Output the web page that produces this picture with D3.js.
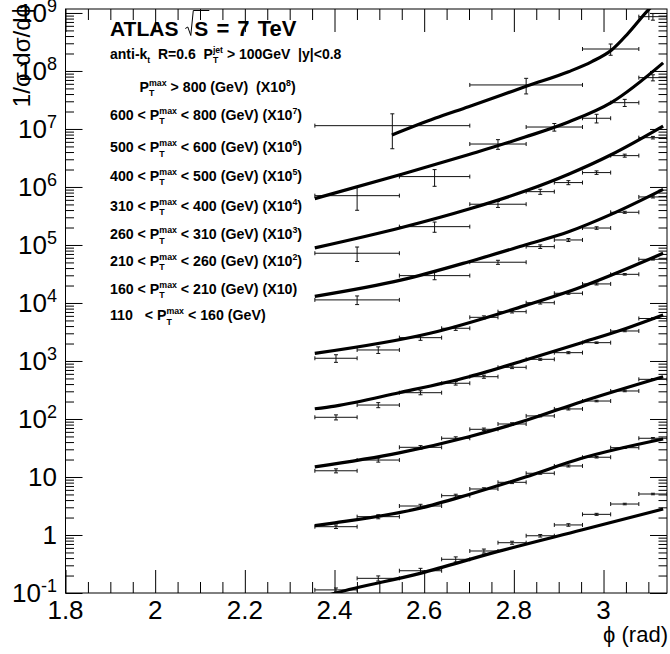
<!DOCTYPE html>
<html>
<head>
<meta charset="utf-8">
<script src="https://cdn.jsdelivr.net/npm/d3@7"></script>
<style>
  body { margin: 0; background: #fff; }
  text { font-family: "Liberation Sans", Arial, Helvetica, sans-serif; white-space: pre; }
</style>
</head>
<body>
<div class="canvas"></div>
<script>
// bin edges (in units of pi)
const binsFine = [0.75, 0.78, 0.81, 0.84, 0.86, 0.88, 0.90, 0.92, 0.94, 0.96, 0.98, 1.00];
const binsMid  = [0.75, 0.81, 0.86, 0.90, 0.92, 0.94, 0.96, 0.98, 1.00];
const binsH    = [0.75, 0.81, 0.86, 0.90, 0.94, 0.96, 0.98, 1.00];
const binsI    = [0.75, 0.86, 0.94, 0.98, 1.00];

// data values (already multiplied by the factor in the legend) and relative errors
const valA = [0.113, 0.179, 0.242, 0.381, 0.53, 0.736, 0.97, 1.49, 2.27, 3.42, 5.09];
const errA = [0.08, 0.10, 0.10, 0.10, 0.08, 0.06, 0.05, 0.05, 0.04, 0.03, 0.03];
const valB = [1.39, 2.07, 3.16, 4.76, 6.21, 8.1, 11.6, 15.5, 21.9, 32, 46.5];
const errB = [0.07, 0.08, 0.07, 0.06, 0.05, 0.05, 0.04, 0.04, 0.03, 0.03, 0.03];
const valC = [12.8, 19.6, 32.5, 46.5, 66.4, 82, 113, 149, 204, 304, 483];
const errC = [0.08, 0.08, 0.07, 0.06, 0.05, 0.05, 0.04, 0.04, 0.03, 0.03, 0.03];
const valD = [107, 174, 284, 413, 536, 778, 1069, 1391, 2069, 3290, 5400];
const errD = [0.10, 0.10, 0.08, 0.07, 0.06, 0.05, 0.04, 0.04, 0.03, 0.03, 0.03];
const valE = [1114, 1549, 2524, 3664, 5660, 7080, 10100, 14700, 21300, 31200, 56600];
const errE = [0.15, 0.13, 0.10, 0.08, 0.06, 0.05, 0.05, 0.04, 0.04, 0.03, 0.03];
const valF = [1.13e4, 2.96e4, 5.04e4, 9.36e4, 1.22e5, 1.96e5, 3.66e5, 6.73e5];
const errF = [0.17, 0.15, 0.08, 0.07, 0.06, 0.05, 0.04, 0.04];
const valG = [7.2e4, 2.07e5, 5.04e5, 8.3e5, 1.19e6, 1.77e6, 3.47e6, 7.08e6];
const errG = [0.28, 0.20, 0.12, 0.10, 0.08, 0.07, 0.06, 0.05];
const valH = [7.08e5, 1.51e6, 5.5e6, 1.08e7, 1.53e7, 2.84e7, 7.67e7];
const errH = [0.44, 0.32, 0.19, 0.15, 0.17, 0.14, 0.12];
const valI = [1.14e7, 5.74e7, 2.39e8, 8.63e8];
const errI = [0.60, 0.30, 0.22, 0.13];

// theory curves [phi (rad), value]
const curveA = [[2.356, 0.078], [2.401, 0.099], [2.591, 0.218], [2.763, 0.516], [2.951, 1.22], [3.133, 2.8]];
const curveB = [[2.356, 1.45], [2.401, 1.62], [2.591, 2.9], [2.70, 5.0], [2.826, 10.0], [2.951, 21], [3.133, 45.2]];
const curveC = [[2.356, 14.9], [2.544, 26], [2.70, 49.5], [2.826, 94], [2.951, 199], [3.133, 536]];
const curveD = [[2.356, 150], [2.401, 167], [2.544, 284], [2.70, 536], [2.826, 1040], [2.951, 2069], [3.05, 3630], [3.133, 6210]];
const curveE = [[2.356, 1350], [2.613, 3000], [2.825, 9000], [2.922, 15700], [3.018, 30400], [3.133, 72000]];
const curveF = [[2.356, 1.3e4], [2.55, 2.5e4], [2.70, 5.15e4], [2.825, 1.0e5], [2.922, 1.69e5], [3.018, 3.4e5], [3.133, 9.1e5]];
const curveG = [[2.356, 8.9e4], [2.55, 2.0e5], [2.70, 4.17e5], [2.825, 8.5e5], [2.922, 1.66e6], [3.018, 3.63e6], [3.133, 1.12e7]];
const curveH = [[2.356, 6.3e5], [2.55, 1.66e6], [2.70, 3.63e6], [2.825, 7.24e6], [2.922, 1.32e7], [3.018, 2.88e7], [3.133, 1.38e8]];
const curveI = [[2.528, 7.88e6], [2.624, 1.53e7], [2.699, 2.42e7], [2.773, 3.85e7], [2.829, 5.5e7], [2.922, 9.7e7], [2.974, 1.45e8], [3.018, 2.3e8], [3.055, 4.47e8], [3.1, 1.13e9], [3.12, 1.6e9]];

// tick labels
const xTickVals = [1.8, 2.0, 2.2, 2.4, 2.6, 2.8, 3.0];
const xTickLabels = ['1.8', '2', '2.2', '2.4', '2.6', '2.8', '3'];
const yExponents = [-1, 0, 1, 2, 3, 4, 5, 6, 7, 8, 9];

// legend rows: [before P, after P, exponent, closing]
const legendRows = [
  ['', ' > 800 (GeV)  (X10', '8', ')'],
  ['600 < ', ' < 800 (GeV) (X10', '7', ')'],
  ['500 < ', ' < 600 (GeV) (X10', '6', ')'],
  ['400 < ', ' < 500 (GeV) (X10', '5', ')'],
  ['310 < ', ' < 400 (GeV) (X10', '4', ')'],
  ['260 < ', ' < 310 (GeV) (X10', '3', ')'],
  ['210 < ', ' < 260 (GeV) (X10', '2', ')'],
  ['160 < ', ' < 210 (GeV) (X10)', '', ''],
  ['110   < ', ' < 160 (GeV)', '', '']
];

const series = [
  {bins: binsFine, vals: valA, errs: errA, curve: curveA},
  {bins: binsFine, vals: valB, errs: errB, curve: curveB},
  {bins: binsFine, vals: valC, errs: errC, curve: curveC},
  {bins: binsFine, vals: valD, errs: errD, curve: curveD},
  {bins: binsFine, vals: valE, errs: errE, curve: curveE},
  {bins: binsMid, vals: valF, errs: errF, curve: curveF},
  {bins: binsMid, vals: valG, errs: errG, curve: curveG},
  {bins: binsH, vals: valH, errs: errH, curve: curveH},
  {bins: binsI, vals: valI, errs: errI, curve: curveI}
];

const W = 670, H = 654;
const pLeft = 65.5, pRight = 667, pTop = 9, pBottom = 593;

const svg = d3.select('.canvas')
  .append('svg')
    .attr('width', W)
    .attr('height', H);

const x = d3.scaleLinear()
  .domain([1.8, Math.PI])
  .range([pLeft, pRight]);

const y = d3.scaleLog()
  .domain([0.1, 1.17e9])
  .range([pBottom, pTop]);

svg.append('clipPath').attr('id', 'clip')
  .append('rect')
    .attr('x', pLeft).attr('y', pTop)
    .attr('width', pRight - pLeft).attr('height', pBottom - pTop);

// ticks
const xMinor = d3.range(36, 63).map(i => +(i * 0.05).toFixed(2)).filter(v => !xTickVals.includes(v));
const yMajor = yExponents.map(e => Math.pow(10, e));
const yMinor = [];
yExponents.forEach(e => d3.range(2, 10).forEach(k => {
  const v = k * Math.pow(10, e);
  if (v < 1.17e9) yMinor.push(v);
}));

function tickAxis(axis, transform) {
  svg.append('g')
    .attr('transform', transform)
    .call(axis.tickFormat('').tickSizeOuter(0))
    .call(g => g.select('.domain').remove())
    .selectAll('line').attr('stroke', '#000');
}

tickAxis(d3.axisBottom(x).tickValues(xTickVals).tickSizeInner(-23), `translate(0,${pBottom})`);
tickAxis(d3.axisBottom(x).tickValues(xMinor).tickSizeInner(-11), `translate(0,${pBottom})`);
tickAxis(d3.axisTop(x).tickValues(xTickVals).tickSizeInner(-23), `translate(0,${pTop})`);
tickAxis(d3.axisTop(x).tickValues(xMinor).tickSizeInner(-11), `translate(0,${pTop})`);
tickAxis(d3.axisLeft(y).tickValues(yMajor).tickSizeInner(-17), `translate(${pLeft},0)`);
tickAxis(d3.axisLeft(y).tickValues(yMinor).tickSizeInner(-8.5), `translate(${pLeft},0)`);
tickAxis(d3.axisRight(y).tickValues(yMajor).tickSizeInner(-17), `translate(${pRight},0)`);
tickAxis(d3.axisRight(y).tickValues(yMinor).tickSizeInner(-8.5), `translate(${pRight},0)`);

// frame
svg.append('rect')
  .attr('x', pLeft).attr('y', pTop)
  .attr('width', pRight - pLeft).attr('height', pBottom - pTop)
  .attr('fill', 'none').attr('stroke', '#000').attr('stroke-width', 1);

// x tick labels
svg.append('g').selectAll('text')
  .data(xTickVals)
  .enter().append('text')
    .attr('x', d => x(d))
    .attr('y', pBottom + 26)
    .attr('text-anchor', 'middle')
    .attr('font-size', 26)
    .text((d, i) => xTickLabels[i]);

// y tick labels
yExponents.forEach(e => {
  const t = svg.append('text')
    .attr('x', 57)
    .attr('y', y(Math.pow(10, e)) + 9.4)
    .attr('text-anchor', 'end')
    .attr('font-size', 26);
  if (e === 0) t.text('1');
  else if (e === 1) t.text('10');
  else {
    t.append('tspan').text('10');
    t.append('tspan').attr('dy', -10).attr('font-size', 18).text(e);
  }
});

// axis titles
svg.append('text')
  .attr('transform', 'translate(30,4) rotate(-90)')
  .attr('text-anchor', 'end')
  .attr('font-size', 24)
  .text('1/σ dσ/dϕ');

svg.append('text')
  .attr('x', 668).attr('y', 642)
  .attr('text-anchor', 'end')
  .attr('font-size', 22)
  .text('ϕ (rad)');

// data: error bars
const plot = svg.append('g').attr('clip-path', 'url(#clip)');

series.forEach(s => {
  const pts = s.vals.map((v, i) => ({
    lo: s.bins[i] * Math.PI, hi: s.bins[i + 1] * Math.PI, v: v, e: s.errs[i]
  }));
  const g = plot.append('g').attr('stroke', '#111').attr('stroke-width', 1).attr('fill', 'none');
  pts.forEach(p => {
    const xc = x((p.lo + p.hi) / 2), yv = y(p.v);
    const yu = y(p.v * (1 + p.e)), yd = y(p.v * (1 - p.e));
    g.append('line').attr('x1', x(p.lo)).attr('x2', x(p.hi)).attr('y1', yv).attr('y2', yv);
    g.append('line').attr('x1', x(p.lo)).attr('x2', x(p.lo)).attr('y1', yv - 2).attr('y2', yv + 2);
    g.append('line').attr('x1', x(p.hi)).attr('x2', x(p.hi)).attr('y1', yv - 2).attr('y2', yv + 2);
    g.append('line').attr('x1', xc).attr('x2', xc).attr('y1', yu).attr('y2', yd);
    g.append('line').attr('x1', xc - 2).attr('x2', xc + 2).attr('y1', yu).attr('y2', yu);
    g.append('line').attr('x1', xc - 2).attr('x2', xc + 2).attr('y1', yd).attr('y2', yd);
  });
});

// theory curves
const line = d3.line()
  .x(d => x(d[0]))
  .y(d => y(d[1]))
  .curve(d3.curveMonotoneX);

plot.selectAll('path.curve')
  .data(series)
  .enter().append('path')
    .attr('class', 'curve')
    .attr('d', d => line(d.curve))
    .attr('fill', 'none')
    .attr('stroke', '#000')
    .attr('stroke-width', 3.2);

// text with stacked sub/superscripts
function richText(x0, y0, parts, size) {
  let cx = x0;
  parts.forEach(p => {
    if (typeof p === 'string') {
      const t = svg.append('text')
        .attr('x', cx).attr('y', y0)
        .attr('font-size', size).attr('font-weight', 'bold')
        .text(p);
      cx += t.node().getComputedTextLength();
    } else {
      let w = 0;
      const ss = size * 0.62;
      if (p.sup) {
        const t = svg.append('text').attr('x', cx).attr('y', y0 - size * 0.42)
          .attr('font-size', ss).attr('font-weight', 'bold').text(p.sup);
        w = Math.max(w, t.node().getComputedTextLength());
      }
      if (p.sub) {
        const t = svg.append('text').attr('x', cx).attr('y', y0 + size * 0.32)
          .attr('font-size', ss).attr('font-weight', 'bold').text(p.sub);
        w = Math.max(w, t.node().getComputedTextLength());
      }
      cx += w;
    }
  });
  return cx;
}

// ATLAS label with square root
const atlasX = 110, atlasY = 35.5;
const t1 = svg.append('text')
  .attr('x', atlasX).attr('y', atlasY)
  .attr('font-size', 21).attr('font-weight', 'bold')
  .text('ATLAS ');
const rx = atlasX + t1.node().getComputedTextLength() + 1;
const sT = svg.append('text')
  .attr('x', rx + 9).attr('y', atlasY)
  .attr('font-size', 21).attr('font-weight', 'bold')
  .text('S');
const sW = sT.node().getComputedTextLength();
svg.append('path')
  .attr('d', `M${rx},${atlasY - 7} L${rx + 2.5},${atlasY - 8.5} L${rx + 5.5},${atlasY} L${rx + 8},${atlasY - 25} L${rx + 10 + sW},${atlasY - 25}`)
  .attr('fill', 'none').attr('stroke', '#000').attr('stroke-width', 1);
svg.append('text')
  .attr('x', rx + 9 + sW).attr('y', atlasY)
  .attr('font-size', 22).attr('font-weight', 'bold')
  .style('word-spacing', '2px')
  .text(' = 7 TeV');

richText(110, 58.5, ['anti-k', {sub: 't'}, '  R=0.6  P', {sup: 'jet', sub: 'T'}, ' > 100GeV  |y|<0.8'], 14);

// legend rows
const rowY = [91.5, 119.5, 152, 180.5, 210.5, 239, 265.5, 293.5, 320];
legendRows.forEach((r, i) => {
  const parts = [r[0] + 'P', {sup: 'max', sub: 'T'}, r[1]];
  if (r[2]) parts.push({sup: r[2]}, r[3]);
  richText(i === 0 ? 139.5 : 110, rowY[i], parts, 14.2);
});
</script>
</body>
</html>
